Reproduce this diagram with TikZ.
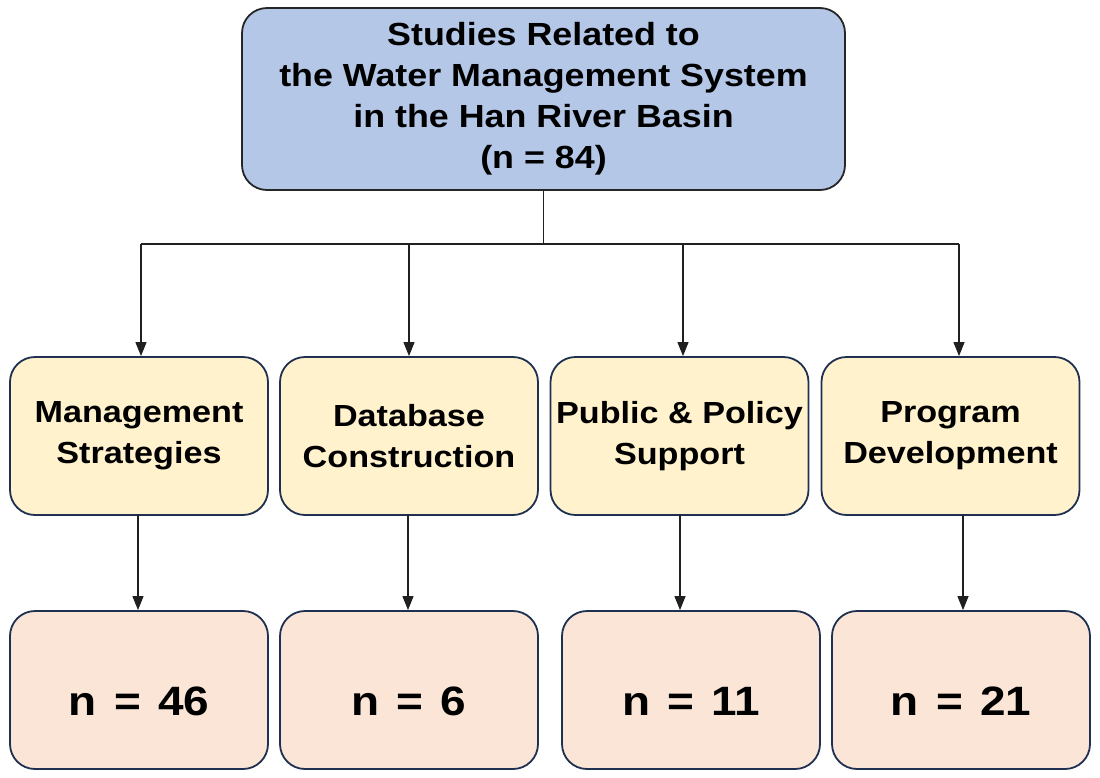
\documentclass[tikz,border=0pt]{standalone}
\usepackage{fontspec}
\setmainfont{Liberation Sans}[FakeStretch=1.12]
\usetikzlibrary{arrows.meta,calc}
\definecolor{topfill}{HTML}{B4C7E7}
\definecolor{midfill}{HTML}{FFF2CC}
\definecolor{botfill}{HTML}{FBE5D6}
\definecolor{edge}{HTML}{1F3050}
\definecolor{wire}{HTML}{202020}
\newcommand{\gap}{\hspace{0.42em}}
\tikzset{
  box/.style={draw=edge, line width=1.8pt, rounded corners=25pt, align=center,
    inner sep=0pt, anchor=center},
  topbox/.style={box, draw=black!85, fill=topfill, minimum width=603pt, minimum height=182pt,
    font=\fontsize{32}{41}\selectfont\bfseries},
  midbox/.style={box, fill=midfill, minimum width=258pt, minimum height=158pt,
    font=\fontsize{30.5}{41}\selectfont\bfseries},
  botbox/.style={box, fill=botfill, minimum width=258pt, minimum height=158pt,
    text height=50pt, text depth=0pt,
    font=\fontsize{41}{48}\selectfont\bfseries},
  conn/.style={draw=wire, line width=1.1pt},
  arr/.style={conn, -{Triangle[width=11pt,length=14pt]}}
}
\begin{document}
\begin{tikzpicture}[x=1pt,y=-1pt]
\useasboundingbox (0,0) rectangle (1100,777);
\node[topbox] (top) at (543.5,99) {Studies Related to\\the Water Management System\\in the Han River Basin\\(n = 84)};
\node[midbox] (m1) at (139,436) {Management\\Strategies};
\node[midbox] (m2) at (409,436) {Database\\Construction};
\node[midbox] (m3) at (679.5,436) {Public \& Policy\\Support};
\node[midbox] (m4) at (950.5,436) {Program\\Development};
\node[botbox] (b1) at (139,690) {n\gap=\gap46};
\node[botbox] (b2) at (409,690) {n\gap=\gap6};
\node[botbox] (b3) at (691,690) {n\gap=\gap11};
\node[botbox] (b4) at (961,690) {n\gap=\gap21};
\coordinate (hub) at ($(top.south)+(0,54)$);
\coordinate (l1) at (141,244);
\coordinate (l2) at (409,244);
\coordinate (l3) at (683,244);
\coordinate (l4) at (959,244);
\coordinate (d1) at (138,515);
\coordinate (d2) at (408,515);
\coordinate (d3) at (680,515);
\coordinate (d4) at (963,515);
\draw[conn] (top.south) -- (hub);
\draw[conn] (l1) -- (l4);
\draw[arr] (l1) -- (l1 |- m1.north);
\draw[arr] (l2) -- (l2 |- m2.north);
\draw[arr] (l3) -- (l3 |- m3.north);
\draw[arr] (l4) -- (l4 |- m4.north);
\draw[arr] (d1) -- (d1 |- b1.north);
\draw[arr] (d2) -- (d2 |- b2.north);
\draw[arr] (d3) -- (d3 |- b3.north);
\draw[arr] (d4) -- (d4 |- b4.north);
\end{tikzpicture}
\end{document}
